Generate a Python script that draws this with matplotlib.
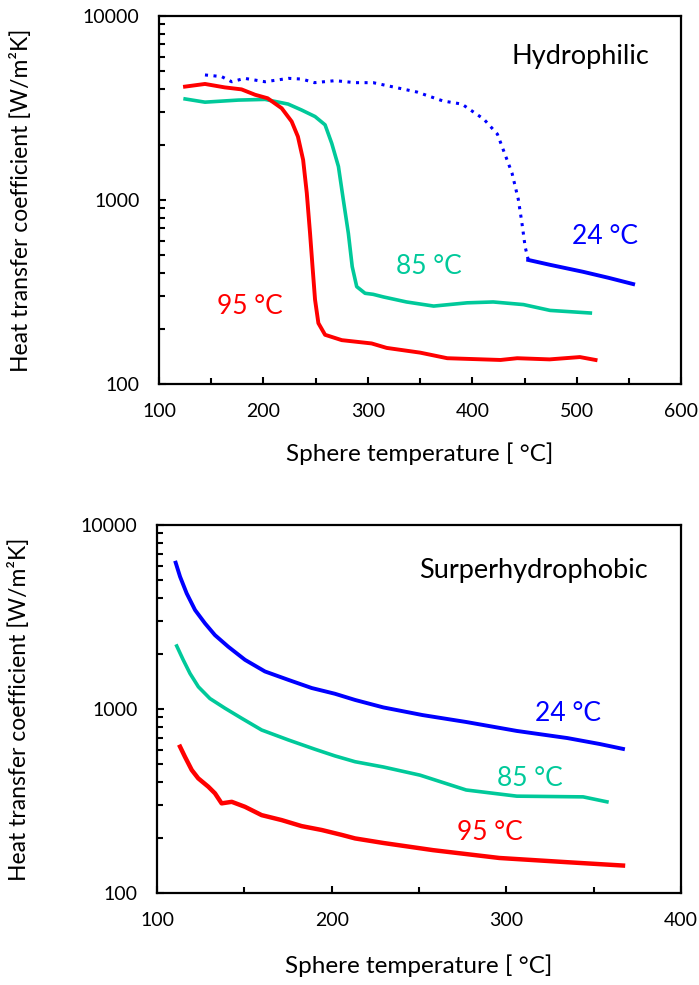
import matplotlib
matplotlib.use('Agg')
import matplotlib.pyplot as plt
from matplotlib.ticker import FixedLocator, NullFormatter, LogLocator

plt.rcParams['font.family'] = ['Lato', 'DejaVu Sans']

# 颜色
BLUE = '#0000FF'
TEAL = '#00C99A'
RED = '#FF0000'

# ---- Hydrophilic (top) ----
hyd_t24_drop = [144, 160, 169.6, 182, 201.5, 224, 236.7, 249, 268.6, 287.7, 305, 347, 372, 390, 411, 424, 430, 438, 444, 447.5, 450.6, 453.6]
hyd_h24_drop = [4780, 4680, 4390, 4580, 4390, 4580, 4540, 4340, 4450, 4340, 4340, 3860, 3450, 3320, 2750, 2280, 1850, 1400, 1010, 750, 556, 472]
hyd_t24_tail = [453.6, 474.5, 506, 530, 554]
hyd_h24_tail = [472, 444, 407, 378, 349]

hyd_t85 = [125, 144, 176, 201.5, 223.6, 236.6, 249.4, 259, 265.4, 271.8, 276.5, 281.3, 285, 289.3, 297.3, 305, 315, 337, 363, 395, 420, 449, 474.5, 513]
hyd_h85 = [3540, 3400, 3490, 3520, 3320, 3080, 2840, 2560, 2030, 1520, 1000, 659, 434, 338, 311, 307, 297, 279, 265, 276, 279, 270, 251, 243]

hyd_t95 = [124.9, 144, 163, 179, 192, 204, 217.5, 227, 233, 238, 241.5, 244.6, 247, 249.4, 252.6, 259, 275, 303.6, 318, 350, 376, 427, 443, 474, 503, 518]
hyd_h95 = [4130, 4270, 4090, 3990, 3730, 3570, 3150, 2670, 2210, 1650, 1090, 661, 433, 287, 214, 185, 173, 166, 157, 148, 138, 135, 138, 136, 140, 135]

# ---- Superhydrophobic (bottom) ----
sup_t24 = [110.7, 113.2, 117, 121.8, 127.5, 133.2, 140.8, 150.4, 161.8, 175.2, 188.6, 201.9, 213.4, 229.6, 252, 277, 306, 335, 353.6, 366.8]
sup_h24 = [6240, 5240, 4250, 3450, 2920, 2520, 2180, 1850, 1600, 1440, 1300, 1210, 1120, 1020, 927, 850, 760, 695, 645, 607]

sup_t85 = [111.3, 115, 118.9, 123.7, 130.3, 138.9, 148.5, 159.9, 175.2, 190.5, 201.9, 213.4, 229.6, 250.6, 277, 306, 344, 357.6]
sup_h85 = [2200, 1850, 1560, 1320, 1140, 1010, 890, 769, 679, 604, 556, 517, 484, 437, 363, 336, 333, 313]

sup_t95 = [113.2, 116, 119.9, 123.6, 129.4, 133.2, 137, 142.8, 150.4, 159.9, 171.4, 182.8, 194.3, 205.7, 213.4, 229.6, 258, 296, 335, 366.8]
sup_h95 = [624, 550, 466, 420, 378, 348, 307, 313, 294, 265, 249, 231, 220, 207, 198, 187, 171, 155, 147, 141]


def style_axes(ax, xmax):
    ax.set_yscale('log')
    ax.set_ylim(100, 10000)
    ax.set_xlim(100, xmax)
    ax.xaxis.set_major_locator(FixedLocator(list(range(100, xmax + 1, 100))))
    ax.xaxis.set_minor_locator(FixedLocator(list(range(150, xmax, 100))))
    ax.yaxis.set_major_locator(FixedLocator([100, 1000, 10000]))
    ax.yaxis.set_minor_locator(LogLocator(base=10, subs=range(2, 10)))
    ax.yaxis.set_minor_formatter(NullFormatter())
    ax.set_yticklabels(['100', '1000', '10000'])
    for s in ax.spines.values():
        s.set_linewidth(1.6)
    ax.tick_params(axis='both', which='both', direction='in', width=1.5, labelsize=14)
    ax.tick_params(axis='both', which='major', length=5)
    ax.tick_params(axis='both', which='minor', length=4)
    ax.tick_params(axis='x', which='both', pad=14)
    ax.tick_params(axis='y', which='both', pad=14)
    ax.tick_params(top=False, right=False, which='both')
    ax.set_ylabel('Heat transfer coefficient [W/m²K]', fontsize=16.5)
    ax.set_xlabel('Sphere temperature [ °C]', fontsize=17.5)
    ax.yaxis.set_label_coords(-0.243, 0.5)


fig = plt.figure(figsize=(6.99, 9.85), dpi=100)
ax1 = fig.add_axes([0.2275, 0.6102, 0.747, 0.3736])
ax2 = fig.add_axes([0.2246, 0.0934, 0.7496, 0.3736])

# 上图
ax1.plot(hyd_t24_drop, hyd_h24_drop, color=BLUE, lw=2.2, linestyle=(0, (1, 1.8)))
ax1.plot(hyd_t24_tail, hyd_h24_tail, color=BLUE, lw=2.8)
ax1.plot(hyd_t85, hyd_h85, color=TEAL, lw=2.6)
ax1.plot(hyd_t95, hyd_h95, color=RED, lw=2.8)
style_axes(ax1, 600)
ax1.xaxis.set_label_coords(0.5, -0.16)
ax1.text(570, 5990, 'Hydrophilic', fontsize=19.5, ha='right', va='center')
ax1.text(495.6, 630, '24 °C', fontsize=19, color=BLUE, ha='left', va='center')
ax1.text(327, 437, '85 °C', fontsize=19, color=TEAL, ha='left', va='center')
ax1.text(155.5, 262, '95 °C', fontsize=19, color=RED, ha='left', va='center')

# 下图
ax2.plot(sup_t24, sup_h24, color=BLUE, lw=2.8)
ax2.plot(sup_t85, sup_h85, color=TEAL, lw=2.6)
ax2.plot(sup_t95, sup_h95, color=RED, lw=3.2)
style_axes(ax2, 400)
ax2.xaxis.set_label_coords(0.5, -0.168)
ax2.text(381, 5690, 'Surperhydrophobic', fontsize=19.5, ha='right', va='center')
ax2.text(316.4, 951, '24 °C', fontsize=19, color=BLUE, ha='left', va='center')
ax2.text(294.7, 421, '85 °C', fontsize=19, color=TEAL, ha='left', va='center')
ax2.text(271.8, 212, '95 °C', fontsize=19, color=RED, ha='left', va='center')

fig.savefig('out.png', dpi=100)
